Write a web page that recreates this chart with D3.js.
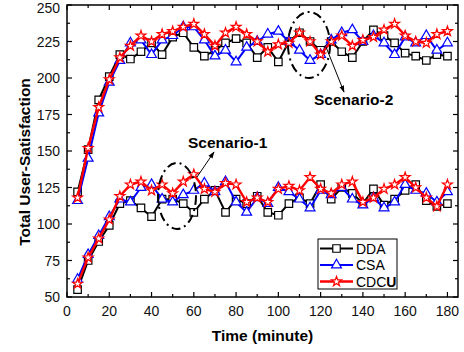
<!DOCTYPE html>
<html>
<head>
<meta charset="utf-8">
<script src="https://cdn.jsdelivr.net/npm/d3@7"></script>
<style>
  body { margin: 0; background: #fff; }
  text { font-family: Arial, "Liberation Sans", sans-serif; }
</style>
</head>
<body>
<div id="chart"></div>
<script>
// time axis (minutes), one point every 5 min
let times = d3.range(5, 181, 5);

// scenario-2 (upper group)
let ddaHigh = [122, 151, 185, 201, 216, 213, 218, 224, 216, 228, 231, 221,
               215, 219, 224, 227, 224, 214, 221, 211, 225, 231, 225, 219,
               225, 218, 214, 225, 233, 229, 224, 217, 215, 212, 216, 215];
let csaHigh = [116, 145, 176, 197, 212, 224, 226, 216, 226, 229, 235, 235,
               226, 215, 219, 211, 221, 225, 230, 232, 225, 219, 212, 216,
               226, 231, 233, 225, 229, 224, 216, 228, 224, 229, 219, 224];
let cdcuHigh = [118, 152, 180, 199, 214, 222, 229, 225, 230, 232, 235, 237,
                230, 222, 231, 235, 230, 225, 218, 223, 224, 231, 225, 216,
                225, 229, 222, 226, 228, 233, 237, 229, 225, 224, 230, 232];

// scenario-1 (lower group)
let ddaLow = [55, 75, 88, 99, 114, 116, 111, 105, 117, 117, 114, 108,
              117, 123, 108, 117, 114, 119, 108, 106, 114, 118, 114, 127,
              117, 125, 121, 114, 124, 113, 117, 123, 127, 116, 112, 114];
let csaLow = [62, 79, 92, 105, 117, 115, 125, 127, 117, 115, 120, 123,
              128, 122, 129, 115, 108, 118, 114, 125, 122, 117, 111, 123,
              120, 125, 117, 113, 118, 111, 115, 127, 123, 121, 115, 122];
let cdcuLow = [59, 77, 90, 103, 119, 127, 129, 123, 127, 121, 129, 134,
               124, 122, 128, 127, 115, 118, 115, 124, 126, 123, 132, 124,
               121, 127, 129, 115, 118, 124, 127, 132, 125, 118, 112, 127];

let xTicks = d3.range(0, 181, 20);
let yTicks = d3.range(50, 251, 25);

let seriesNames = ['DDA', 'CSA', 'CDCU'];
let seriesColors = ['#000000', '#0000ff', '#ff0000'];
let seriesSymbols = [d3.symbolSquare, d3.symbolTriangle, d3.symbolStar];
let symbolSizes = [56, 42, 30];

let width = 464, height = 352;
let plotLeft = 67, plotRight = 458, plotTop = 5, plotBottom = 297;

let x = d3.scaleLinear().domain([0, 185]).range([plotLeft, plotRight]);
let y = d3.scaleLinear().domain([50, 250]).range([plotBottom, plotTop]);

let svg = d3.select('#chart').append('svg')
    .attr('width', width)
    .attr('height', height);

svg.append('defs').append('marker')
    .attr('id', 'arrow')
    .attr('viewBox', '0 0 10 10')
    .attr('refX', 9).attr('refY', 5)
    .attr('markerWidth', 7).attr('markerHeight', 7)
    .attr('orient', 'auto')
    .append('path')
    .attr('d', 'M0,1.5 L10,5 L0,8.5 Z')
    .attr('fill', '#000');

// frame with inward ticks on all four sides
let frame = svg.append('g');
frame.append('rect')
    .attr('x', plotLeft).attr('y', plotTop)
    .attr('width', plotRight - plotLeft).attr('height', plotBottom - plotTop)
    .attr('fill', 'none').attr('stroke', '#000').attr('stroke-width', 1.5);

let xMinor = d3.range(0, 186, 10);
let yMinor = d3.range(50, 251, 12.5);
xMinor.forEach(function(t) {
  let len = t % 20 === 0 ? 5 : 3;
  frame.append('line').attr('x1', x(t)).attr('x2', x(t))
      .attr('y1', plotBottom).attr('y2', plotBottom - len).attr('stroke', '#000').attr('stroke-width', 1.2);
  frame.append('line').attr('x1', x(t)).attr('x2', x(t))
      .attr('y1', plotTop).attr('y2', plotTop + len).attr('stroke', '#000').attr('stroke-width', 1.2);
});
yMinor.forEach(function(v) {
  let len = v % 25 === 0 ? 5 : 3;
  frame.append('line').attr('y1', y(v)).attr('y2', y(v))
      .attr('x1', plotLeft).attr('x2', plotLeft + len).attr('stroke', '#000').attr('stroke-width', 1.2);
  frame.append('line').attr('y1', y(v)).attr('y2', y(v))
      .attr('x1', plotRight).attr('x2', plotRight - len).attr('stroke', '#000').attr('stroke-width', 1.2);
});

// tick labels
svg.selectAll('.xlab').data(xTicks).enter().append('text')
    .attr('x', d => x(d)).attr('y', 316)
    .attr('text-anchor', 'middle')
    .style('font-size', '14px').attr('fill', '#111')
    .text(d => d);
svg.selectAll('.ylab').data(yTicks).enter().append('text')
    .attr('x', 60).attr('y', d => Math.max(y(d) + 5, 12.5))
    .attr('text-anchor', 'end')
    .style('font-size', '14px').attr('fill', '#111')
    .text(d => d);

// axis titles
svg.append('text')
    .attr('x', (plotLeft + plotRight) / 2).attr('y', 341)
    .attr('text-anchor', 'middle')
    .style('font-size', '15.5px').style('font-weight', 'bold')
    .text('Time (minute)');
svg.append('text')
    .attr('transform', 'translate(30,' + 162 + ') rotate(-90)')
    .attr('text-anchor', 'middle')
    .style('font-size', '15.5px').style('font-weight', 'bold')
    .text('Total User-Satisfaction');

let line = d3.line().x((d, i) => x(times[i])).y(d => y(d));

function drawSeries(values, k) {
  let g = svg.append('g');
  g.append('path')
      .datum(values)
      .attr('d', line)
      .attr('fill', 'none')
      .attr('stroke', seriesColors[k])
      .attr('stroke-width', k === 2 ? 2.4 : 2);
  g.selectAll('path.pt').data(values).enter().append('path')
      .classed('pt', true)
      .attr('d', d3.symbol().type(seriesSymbols[k]).size(symbolSizes[k]))
      .attr('transform', (d, i) => 'translate(' + x(times[i]) + ',' + y(d) + ')')
      .attr('fill', '#fff')
      .attr('stroke', seriesColors[k])
      .attr('stroke-width', 1.2);
}

[ddaLow, csaLow, cdcuLow].forEach(drawSeries);
[ddaHigh, csaHigh, cdcuHigh].forEach(drawSeries);

// scenario annotations
let dashDot = '9,4,2,4';
svg.append('ellipse')
    .attr('cx', 177).attr('cy', 196).attr('rx', 19).attr('ry', 33)
    .attr('fill', 'none').attr('stroke', '#000').attr('stroke-width', 2)
    .attr('stroke-dasharray', dashDot);
svg.append('ellipse')
    .attr('cx', 309).attr('cy', 45).attr('rx', 21).attr('ry', 33)
    .attr('fill', 'none').attr('stroke', '#000').attr('stroke-width', 2)
    .attr('stroke-dasharray', dashDot);

svg.append('line')
    .attr('x1', 197).attr('y1', 177).attr('x2', 214).attr('y2', 152)
    .attr('stroke', '#000').attr('stroke-width', 1)
    .attr('marker-end', 'url(#arrow)');
svg.append('line')
    .attr('x1', 326).attr('y1', 47).attr('x2', 344).attr('y2', 92)
    .attr('stroke', '#000').attr('stroke-width', 1)
    .attr('marker-end', 'url(#arrow)');

svg.append('text')
    .attr('x', 188).attr('y', 148)
    .style('font-size', '15.5px').style('font-weight', 'bold')
    .text('Scenario-1');
svg.append('text')
    .attr('x', 314).attr('y', 105)
    .style('font-size', '15.5px').style('font-weight', 'bold')
    .text('Scenario-2');

// legend
let legend = svg.append('g');
legend.append('rect')
    .attr('x', 318).attr('y', 239).attr('width', 79).attr('height', 50)
    .attr('fill', '#fff').attr('stroke', '#000').attr('stroke-width', 1);
seriesNames.forEach(function(name, k) {
  let ly = 248.5 + k * 16.5;
  legend.append('line')
      .attr('x1', 320).attr('x2', 353).attr('y1', ly).attr('y2', ly)
      .attr('stroke', seriesColors[k]).attr('stroke-width', k === 2 ? 2.4 : 2);
  legend.append('path')
      .attr('d', d3.symbol().type(seriesSymbols[k]).size(symbolSizes[k]))
      .attr('transform', 'translate(336.5,' + ly + ')')
      .attr('fill', '#fff').attr('stroke', seriesColors[k]).attr('stroke-width', 1.2);
  let t = legend.append('text')
      .attr('x', 356).attr('y', ly + 5)
      .style('font-size', '14px');
  if (name === 'CDCU') {
    t.append('tspan').text('CDC');
    t.append('tspan').style('font-weight', 'bold').text('U');
  } else {
    t.text(name);
  }
});
</script>
</body>
</html>
